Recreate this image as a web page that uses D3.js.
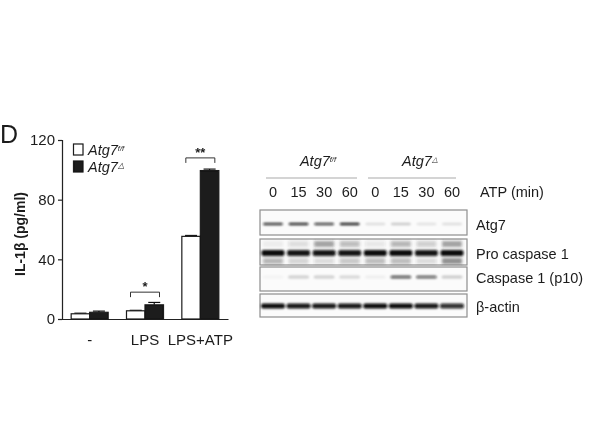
<!DOCTYPE html>
<html>
<head>
<meta charset="utf-8">
<script src="https://cdn.jsdelivr.net/npm/d3@7"></script>
<style>
  html, body { margin: 0; padding: 0; background: #fff; }
  text { font-family: "Liberation Sans", Arial, sans-serif; fill: #1c1c1c; }
</style>
</head>
<body>
<div id="chart"></div>
<script>
// bar chart data
const categories = ['-', 'LPS', 'LPS+ATP'];
const genotypes = ['ff', 'ko'];
const ffValues = [3.5, 5.5, 55.4];
const koValues = [4.5, 9.5, 99.5];
const ffErrors = [0.4, 0.3, 0.6];
const koErrors = [0.8, 1.6, 1];
const yTicks = [0, 40, 80, 120];

// brackets: category index, bracket height in data units, stars
const sigGroups = [1, 2];
const sigLevels = [18, 108];
const sigStars = ['*', '**'];

// blot data: relative band strength per lane
const times = ['0', '15', '30', '60', '0', '15', '30', '60'];
const blotNames = ['Atg7', 'Pro caspase 1', 'Caspase 1 (p10)', '\u03b2-actin'];
const atg7Bands = [0.8, 0.85, 0.75, 0.9, 0.12, 0.2, 0.1, 0.12];
const proBands = [1, 0.95, 0.95, 0.95, 1, 1, 0.95, 1];
const casBands = [0.03, 0.18, 0.18, 0.15, 0.05, 0.65, 0.6, 0.2];
const actinBands = [1, 0.95, 0.95, 0.95, 1, 1, 0.95, 0.85];
const proAbove = [0.06, 0.14, 0.45, 0.3, 0.1, 0.35, 0.22, 0.45];
const proBelow = [0.35, 0.2, 0.15, 0.25, 0.3, 0.3, 0.15, 0.55];

const width = 600;
const height = 447;

const svg = d3.select('#chart')
  .append('svg')
  .attr('width', width)
  .attr('height', height)
  .style('display', 'block');

const defs = svg.append('defs');
defs.append('filter').attr('id', 'soft')
  .append('feGaussianBlur').attr('stdDeviation', 0.35);
defs.append('filter').attr('id', 'band')
  .attr('x', '-20%').attr('y', '-100%').attr('width', '140%').attr('height', '300%')
  .append('feGaussianBlur').attr('stdDeviation', 0.8);
defs.append('filter').attr('id', 'smear')
  .attr('x', '-20%').attr('y', '-100%').attr('width', '140%').attr('height', '300%')
  .append('feGaussianBlur').attr('stdDeviation', 1.6);

const root = svg.append('g').attr('filter', 'url(#soft)');

root.append('text')
  .attr('x', 0).attr('y', 143)
  .attr('font-size', 25)
  .text('D');

// ---- bars
const y = d3.scaleLinear().domain([0, 120]).range([319, 140]);
const x = d3.scaleBand().domain(categories).range([62, 228]);
const x2 = d3.scaleBand().domain(genotypes).range([-18.5, 18.5]);
const center = d => x(d) + x.bandwidth() / 2;

const yAxis = root.append('g')
  .attr('transform', 'translate(62,0)')
  .call(d3.axisLeft(y).tickValues(yTicks).tickSize(4).tickPadding(3));
yAxis.selectAll('text').attr('font-size', 15).attr('font-family', null);
yAxis.selectAll('path,line').attr('stroke', '#222').attr('stroke-width', 1.2);

const xAxis = root.append('g')
  .attr('transform', 'translate(0,319)')
  .call(d3.axisBottom(x).tickSize(0).tickPadding(15));
xAxis.selectAll('text').attr('font-size', 15).attr('font-family', null);
xAxis.select('path').attr('stroke', '#222').attr('stroke-width', 1.2);

const rows = categories.map((c, i) => ({
  cat: c, ff: ffValues[i], ko: koValues[i], ffErr: ffErrors[i], koErr: koErrors[i]
}));

genotypes.forEach(g => {
  const sel = root.append('g').selectAll('g').data(rows).enter().append('g');
  const mid = d => center(d.cat) + x2(g) + x2.bandwidth() / 2;
  sel.append('line')
    .attr('x1', mid).attr('x2', mid)
    .attr('y1', d => y(d[g])).attr('y2', d => y(d[g] + d[g + 'Err']))
    .attr('stroke', '#111').attr('stroke-width', 1.2);
  sel.append('line')
    .attr('x1', d => mid(d) - 6).attr('x2', d => mid(d) + 6)
    .attr('y1', d => y(d[g] + d[g + 'Err'])).attr('y2', d => y(d[g] + d[g + 'Err']))
    .attr('stroke', '#111').attr('stroke-width', 1.2);
  sel.append('rect')
    .attr('x', d => center(d.cat) + x2(g))
    .attr('y', d => y(d[g]))
    .attr('width', x2.bandwidth())
    .attr('height', d => y(0) - y(d[g]))
    .attr('fill', g === 'ff' ? '#fff' : '#1a1a1a')
    .attr('stroke', '#1a1a1a')
    .attr('stroke-width', 1.2);
});

root.append('text')
  .attr('transform', 'translate(25,234) rotate(-90)')
  .attr('text-anchor', 'middle')
  .attr('font-size', 14)
  .attr('font-weight', 'bold')
  .text('IL-1\u03b2 (pg/ml)');

// significance brackets
sigGroups.forEach((g, i) => {
  const c = center(categories[g]);
  const yy = y(sigLevels[i]);
  root.append('path')
    .attr('d', `M${c - 14.5},${yy + 5}V${yy}H${c + 14.5}V${yy + 5}`)
    .attr('fill', 'none')
    .attr('stroke', '#333')
    .attr('stroke-width', 1);
  root.append('text')
    .attr('x', c).attr('y', yy - 1)
    .attr('text-anchor', 'middle')
    .attr('font-size', 13)
    .attr('font-weight', 'bold')
    .text(sigStars[i]);
});

// legend
function geno(sel, sup, supSize) {
  sel.attr('font-style', 'italic').attr('font-size', 14.5);
  sel.append('tspan').text('Atg7');
  sel.append('tspan').attr('font-size', supSize).attr('dy', -4).text(sup);
}
const legend = [['f/f', '#fff', 155, 7.5], ['\u25b3', '#1a1a1a', 172, 8]];
legend.forEach(l => {
  root.append('rect')
    .attr('x', 73.5).attr('y', l[2] - 11)
    .attr('width', 9.5).attr('height', 11)
    .attr('fill', l[1]).attr('stroke', '#1a1a1a').attr('stroke-width', 1.2);
  root.append('text').attr('x', 88).attr('y', l[2]).call(geno, l[0], l[3]);
});

// ---- blot
const lane = d3.scalePoint().domain(d3.range(8)).range([273, 452]);
const blotY = d3.scaleBand().domain(blotNames).range([208, 319]).paddingInner(0.12);
const rowTop = [210, 239, 267, 294];
const rowHeight = [25, 26, 24, 23];
const bandMid = [224, 253, 277, 306];
const bandThick = [2.6, 6, 3, 5];
const bandWide = [20, 23, 21, 24];
const bandData = [atg7Bands, proBands, casBands, actinBands];

blotNames.forEach((name, r) => {
  root.append('rect')
    .attr('x', 260).attr('y', rowTop[r])
    .attr('width', 207).attr('height', rowHeight[r])
    .attr('fill', '#fbfbfb').attr('stroke', '#8e8e8e').attr('stroke-width', 1.2);

  if (r === 1) {
    [[proAbove, -9], [proBelow, 8]].forEach(s => {
      root.append('g').attr('filter', 'url(#smear)')
        .selectAll('rect').data(s[0]).enter().append('rect')
        .attr('x', (d, i) => lane(i) - 10)
        .attr('y', bandMid[r] + s[1] - 3)
        .attr('width', 20).attr('height', 6)
        .attr('fill', '#333')
        .attr('opacity', d => d);
    });
  }

  root.append('g').attr('filter', 'url(#band)')
    .selectAll('rect').data(bandData[r]).enter().append('rect')
    .attr('x', (d, i) => lane(i) - bandWide[r] / 2)
    .attr('y', bandMid[r] - bandThick[r] / 2)
    .attr('width', bandWide[r])
    .attr('height', bandThick[r])
    .attr('rx', 2)
    .attr('fill', '#0c0c0c')
    .attr('opacity', d => d);

  root.append('text')
    .attr('x', 476).attr('y', bandMid[r] + 5.5)
    .attr('font-size', 14.5)
    .text(name);
});

root.append('g').selectAll('text').data(times).enter().append('text')
  .attr('x', (d, i) => lane(i))
  .attr('y', 197)
  .attr('text-anchor', 'middle')
  .attr('font-size', 14.5)
  .text(d => d);

root.append('text')
  .attr('x', 480).attr('y', 197)
  .attr('font-size', 14.5)
  .text('ATP (min)');

const headers = [['f/f', 318, 266, 357], ['\u25b3', 420, 368, 456]];
headers.forEach(h => {
  root.append('text')
    .attr('x', h[1]).attr('y', 166)
    .attr('text-anchor', 'middle')
    .call(geno, h[0], 7.5);
  root.append('line')
    .attr('x1', h[2]).attr('x2', h[3])
    .attr('y1', 178).attr('y2', 178)
    .attr('stroke', '#aaa').attr('stroke-width', 1.2);
});
</script>
</body>
</html>
